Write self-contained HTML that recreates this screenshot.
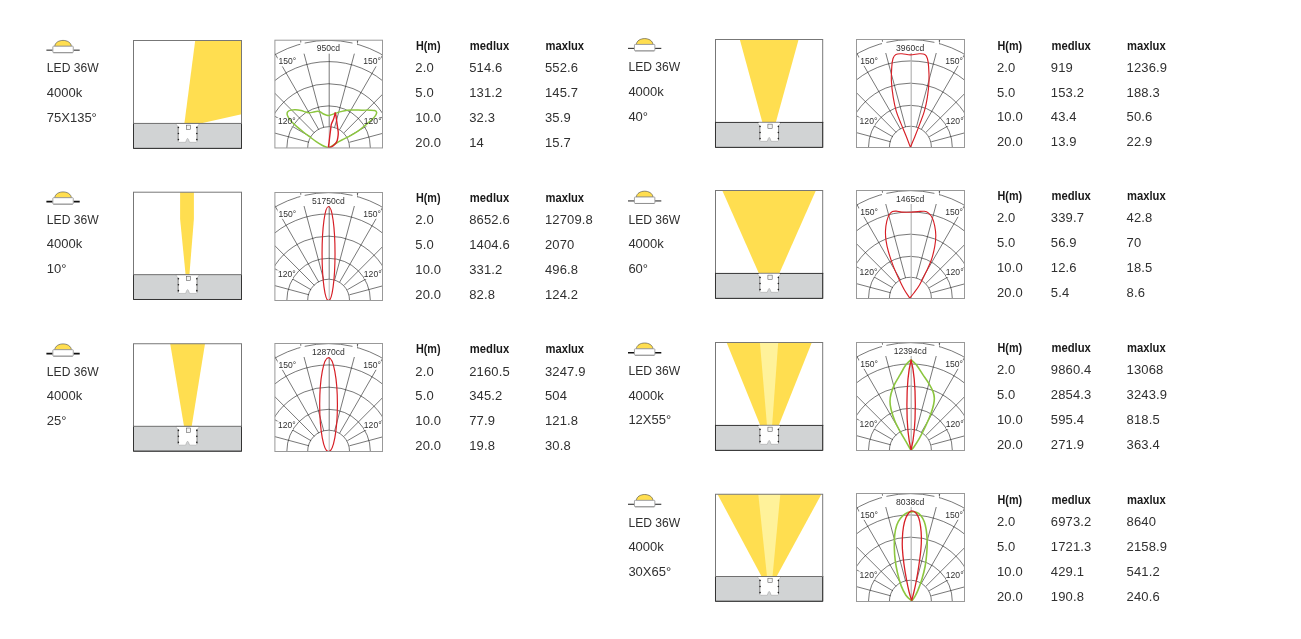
<!DOCTYPE html>
<html lang="en"><head><meta charset="utf-8"><title>LED 36W photometric data</title>
<style>html,body{margin:0;padding:0;background:#fff}body{width:1301px;height:639px;overflow:hidden}svg{display:block;will-change:transform;font-family:"Liberation Sans",sans-serif}</style></head><body>
<svg width="1301" height="639" viewBox="0 0 1301 639">
<rect width="1301" height="639" fill="#fff"/>
<g transform="translate(46.4,40.3)">
<path d="M8.3,6.1 C8.9,-1.9 24.4,-1.9 25,6.1 Z" fill="#FFDE50" stroke="#333" stroke-width="0.55"/>
<path d="M0,9.85H6.3M27,9.85H33.3" stroke="#111" stroke-width="0.95" fill="none"/>
<rect x="6.45" y="5.9" width="20.4" height="6.45" rx="0.7" fill="#fff" stroke="#9a9a9a" stroke-width="0.9"/>
<path d="M7,12.4H26.3" stroke="#888" stroke-width="0.7" fill="none"/>
</g>
<g font-size="13" fill="#303030">
<text x="46.8" y="72.3" textLength="51.9" lengthAdjust="spacingAndGlyphs">LED 36W</text>
<text x="46.8" y="97">4000k</text>
<text x="46.8" y="121.8">75X135°</text>
</g>
<g transform="translate(133,40) scale(1.00000,0.99907)">
<rect x="0.5" y="0.5" width="108" height="108" fill="#fff"/>
<polygon points="62.2,0.5 108.5,0.5 108.5,74.4 67.3,83.5 51.4,83.5" fill="#FFDE50"/>
<rect x="0.5" y="83.5" width="108" height="25" fill="#D1D3D4"/>
<polygon points="43.2,83.5 66,83.5 66,84.7 64.1,86.5 64.1,101.3 63.2,102.4 56.6,102.4 55.5,99.5 54.6,98.4 53.7,99.5 52.6,102.4 46,102.4 45.1,101.3 45.1,86.5 43.2,84.7" fill="#fff" stroke="#8a8a8a" stroke-width="0.4"/>
<path d="M45.2,86.5 V101.2 M64,86.5 V101.2" stroke="#444" stroke-width="0.45" fill="none"/>
<rect x="53.3" y="85.2" width="4.3" height="4.3" fill="#f4f4f4" stroke="#444" stroke-width="0.5"/>
<circle cx="45.4" cy="87.6" r="0.8" fill="#222"/>
<circle cx="45.4" cy="93.6" r="0.8" fill="#222"/>
<circle cx="45.4" cy="99.6" r="0.8" fill="#222"/>
<circle cx="63.8" cy="87.6" r="0.8" fill="#222"/>
<circle cx="63.8" cy="93.6" r="0.8" fill="#222"/>
<circle cx="63.8" cy="99.6" r="0.8" fill="#222"/>
<rect x="0.5" y="0.5" width="108" height="108" fill="none" stroke="#777" stroke-width="1"/>
<path d="M0.5,83 V108.5 H108.5 V83" fill="none" stroke="#333" stroke-width="1"/>
<path d="M0,83.5 H109" stroke="#6e6e6e" stroke-width="1"/>
</g>
<g transform="translate(274.4,39.7) scale(0.99630,0.99769)">
<clipPath id="c1"><rect x="0.5" y="0.5" width="108" height="108"/></clipPath>
<rect x="0.5" y="0.5" width="108" height="108" fill="#fff"/>
<g clip-path="url(#c1)" fill="none" stroke="#141414" stroke-width="0.58">
<circle cx="54.4" cy="108.25" r="21"/>
<circle cx="54.4" cy="108.25" r="41.9"/>
<circle cx="54.4" cy="108.25" r="64.1"/>
<circle cx="54.4" cy="108.25" r="86.3"/>
<circle cx="54.4" cy="108.25" r="107.6"/>
<path d="M55,108.25 V87.25" stroke="#b0b0b0" stroke-width="0.9"/>
<path d="M34.72,102.81 L-99.55,66.84M36.81,97.75 L-83.56,28.25M40.15,93.4 L-58.14,-4.89M44.5,90.06 L-25,-30.31M49.56,87.97 L13.59,-46.3M55,87.25 L55,-51.75M60.44,87.97 L96.41,-46.3M65.5,90.06 L135,-30.31M69.85,93.4 L168.14,-4.89M73.19,97.75 L193.56,28.25M75.28,102.81 L209.55,66.84"/>
</g>
<g fill="#fff">
<rect x="26" y="1" width="57" height="13"/>
<rect x="3" y="18.2" width="19.5" height="8.6"/>
<rect x="88" y="18.2" width="19.5" height="8.6"/>
<rect x="2.4" y="78.4" width="16.2" height="8.6"/>
<rect x="90.2" y="78.4" width="18" height="8.6"/>
</g>
<path d="M30.4,3.36 A107.6,107.6 0 0 1 78.4,3.36" fill="none" stroke="#141414" stroke-width="0.58" clip-path="url(#c1)"/>
<g clip-path="url(#c1)" fill="none" stroke-linejoin="round">
<path d="M54.5,108.5C53.42,108.05 50.17,106.9 48.05,105.8C45.93,104.7 43.89,103.33 41.8,101.9C39.71,100.47 37.58,98.77 35.5,97.2C33.42,95.63 31.38,94.13 29.3,92.5C27.22,90.87 24.97,89.1 23,87.4C21.03,85.7 18.93,83.87 17.5,82.3C16.07,80.73 15.15,79.23 14.4,78C13.65,76.77 13.13,75.88 13,74.9C12.87,73.92 12.97,72.82 13.6,72.1C14.22,71.38 15.44,70.92 16.75,70.6C18.06,70.28 19.76,70.13 21.45,70.2C23.14,70.27 25.21,70.62 26.9,71C28.59,71.38 30.17,72.12 31.6,72.5C33.03,72.88 34.2,73.3 35.5,73.3C36.8,73.3 38.08,72.77 39.4,72.5C40.72,72.23 42.22,71.7 43.4,71.7C44.58,71.7 45.47,72.03 46.5,72.5C47.53,72.97 48.56,73.97 49.6,74.5C50.64,75.03 51.7,75.5 52.75,75.7C53.8,75.9 54.59,75.97 55.9,75.7C57.21,75.43 58.78,74.7 60.6,74.1C62.42,73.5 64.72,72.68 66.8,72.1C68.88,71.52 70.88,70.88 73.1,70.6C75.32,70.32 77.62,70.4 80.1,70.4C82.58,70.4 85.38,70.57 88,70.6C90.62,70.63 93.65,70.53 95.8,70.6C97.95,70.67 99.73,70.62 100.9,71C102.07,71.38 102.67,72.06 102.8,72.9C102.92,73.74 102.43,74.87 101.65,76.05C100.87,77.23 99.72,78.44 98.1,80C96.47,81.56 94.24,83.45 91.9,85.4C89.56,87.35 86.67,89.87 84.05,91.7C81.43,93.53 78.81,94.97 76.2,96.4C73.59,97.83 70.75,99.07 68.4,100.3C66.05,101.53 63.93,102.69 62.1,103.8C60.27,104.91 58.67,106.17 57.4,106.95C56.13,107.73 54.98,108.24 54.5,108.5" stroke="#8CC63F" stroke-width="1.5" transform="translate(-0.2,0)"/>
<path d="M54.3,108.1C54.43,107.19 54.83,104.73 55.1,102.65C55.37,100.57 55.63,97.82 55.9,95.6C56.17,93.38 56.45,91.17 56.7,89.35C56.95,87.52 56.95,86.22 57.4,84.65C57.85,83.08 58.87,81.38 59.4,79.95C59.93,78.52 60.3,77.22 60.6,76.05C60.9,74.88 61.1,73.43 61.2,72.9M61.2,72.9C61.33,73.43 61.73,74.48 62,76.05C62.27,77.62 62.52,80.21 62.8,82.3C63.08,84.39 63.45,86.77 63.7,88.6C63.95,90.42 64.27,91.69 64.3,93.25C64.33,94.81 64.13,96.51 63.9,97.95C63.67,99.39 63.45,100.73 62.9,101.9C62.35,103.08 61.52,104.09 60.6,105C59.68,105.91 58.45,106.83 57.4,107.35C56.35,107.87 54.82,107.97 54.3,108.1" stroke="#D71F26" stroke-width="1.4" transform="translate(-0.2,0)"/>
</g>
<path d="M26.5,0.5V2.8M83.3,0.5V2.8" stroke="#333" stroke-width="0.6" fill="none"/>
<g font-size="8.6" fill="#303030">
<text x="54.2" y="11.6" text-anchor="middle">950cd</text>
<text x="4.2" y="24.8">150°</text>
<text x="89.2" y="24.8">150°</text>
<text x="3.6" y="85">120°</text>
<text x="89.8" y="85">120°</text>
</g>
<rect x="0.5" y="0.5" width="108" height="108" fill="none" stroke="#999" stroke-width="1"/>
</g>
<g font-size="12" font-weight="bold" fill="#1a1a1a">
<text x="415.9" y="49.8" textLength="24.6" lengthAdjust="spacingAndGlyphs">H(m)</text>
<text x="469.8" y="49.8" textLength="39.4" lengthAdjust="spacingAndGlyphs">medlux</text>
<text x="545.5" y="49.8" textLength="38.6" lengthAdjust="spacingAndGlyphs">maxlux</text>
</g>
<g font-size="13" fill="#303030" letter-spacing="0.15">
<text x="415.3" y="72">2.0</text>
<text x="469.2" y="72">514.6</text>
<text x="544.9" y="72">552.6</text>
<text x="415.3" y="96.8">5.0</text>
<text x="469.2" y="96.8">131.2</text>
<text x="544.9" y="96.8">145.7</text>
<text x="415.3" y="121.6">10.0</text>
<text x="469.2" y="121.6">32.3</text>
<text x="544.9" y="121.6">35.9</text>
<text x="415.3" y="146.5">20.0</text>
<text x="469.2" y="146.5">14</text>
<text x="544.9" y="146.5">15.7</text>
</g>
<g transform="translate(46.4,191.8)">
<path d="M8.3,6.1 C8.9,-1.9 24.4,-1.9 25,6.1 Z" fill="#FFDE50" stroke="#333" stroke-width="0.55"/>
<path d="M0,9.85H6.3M27,9.85H33.3" stroke="#111" stroke-width="1.7" fill="none"/>
<rect x="6.45" y="5.9" width="20.4" height="6.45" rx="0.7" fill="#fff" stroke="#9a9a9a" stroke-width="0.9"/>
<path d="M7,12.4H26.3" stroke="#888" stroke-width="0.7" fill="none"/>
</g>
<g font-size="13" fill="#303030">
<text x="46.8" y="223.5" textLength="51.9" lengthAdjust="spacingAndGlyphs">LED 36W</text>
<text x="46.8" y="248.2">4000k</text>
<text x="46.8" y="273">10°</text>
</g>
<g transform="translate(133,191.7) scale(1.00000,0.99352)">
<rect x="0.5" y="0.5" width="108" height="108" fill="#fff"/>
<polygon points="47.1,0.5 60.9,0.5 60.9,27.6 56.4,83.5 52.6,83.5 47.1,27.6" fill="#FFDE50"/>
<rect x="0.5" y="83.5" width="108" height="25" fill="#D1D3D4"/>
<polygon points="43.2,83.5 66,83.5 66,84.7 64.1,86.5 64.1,101.3 63.2,102.4 56.6,102.4 55.5,99.5 54.6,98.4 53.7,99.5 52.6,102.4 46,102.4 45.1,101.3 45.1,86.5 43.2,84.7" fill="#fff" stroke="#8a8a8a" stroke-width="0.4"/>
<path d="M45.2,86.5 V101.2 M64,86.5 V101.2" stroke="#444" stroke-width="0.45" fill="none"/>
<rect x="53.3" y="85.2" width="4.3" height="4.3" fill="#f4f4f4" stroke="#444" stroke-width="0.5"/>
<circle cx="45.4" cy="87.6" r="0.8" fill="#222"/>
<circle cx="45.4" cy="93.6" r="0.8" fill="#222"/>
<circle cx="45.4" cy="99.6" r="0.8" fill="#222"/>
<circle cx="63.8" cy="87.6" r="0.8" fill="#222"/>
<circle cx="63.8" cy="93.6" r="0.8" fill="#222"/>
<circle cx="63.8" cy="99.6" r="0.8" fill="#222"/>
<rect x="0.5" y="0.5" width="108" height="108" fill="none" stroke="#777" stroke-width="1"/>
<path d="M0.5,83 V108.5 H108.5 V83" fill="none" stroke="#333" stroke-width="1"/>
<path d="M0,83.5 H109" stroke="#6e6e6e" stroke-width="1"/>
</g>
<g transform="translate(274.4,192) scale(0.99630,1.00000)">
<clipPath id="c2"><rect x="0.5" y="0.5" width="108" height="108"/></clipPath>
<rect x="0.5" y="0.5" width="108" height="108" fill="#fff"/>
<g clip-path="url(#c2)" fill="none" stroke="#141414" stroke-width="0.58">
<circle cx="54.4" cy="108.25" r="21"/>
<circle cx="54.4" cy="108.25" r="41.9"/>
<circle cx="54.4" cy="108.25" r="64.1"/>
<circle cx="54.4" cy="108.25" r="86.3"/>
<circle cx="54.4" cy="108.25" r="107.6"/>
<path d="M55,108.25 V87.25" stroke="#b0b0b0" stroke-width="0.9"/>
<path d="M34.72,102.81 L-99.55,66.84M36.81,97.75 L-83.56,28.25M40.15,93.4 L-58.14,-4.89M44.5,90.06 L-25,-30.31M49.56,87.97 L13.59,-46.3M55,87.25 L55,-51.75M60.44,87.97 L96.41,-46.3M65.5,90.06 L135,-30.31M69.85,93.4 L168.14,-4.89M73.19,97.75 L193.56,28.25M75.28,102.81 L209.55,66.84"/>
</g>
<g fill="#fff">
<rect x="26" y="1" width="57" height="13"/>
<rect x="3" y="18.2" width="19.5" height="8.6"/>
<rect x="88" y="18.2" width="19.5" height="8.6"/>
<rect x="2.4" y="78.4" width="16.2" height="8.6"/>
<rect x="90.2" y="78.4" width="18" height="8.6"/>
</g>
<path d="M30.4,3.36 A107.6,107.6 0 0 1 78.4,3.36" fill="none" stroke="#141414" stroke-width="0.58" clip-path="url(#c2)"/>
<g clip-path="url(#c2)" fill="none" stroke-linejoin="round">
<path d="M54.55,108.6 A6.5,47.05 0 1 1 54.55,14.5 A6.5,47.05 0 1 1 54.55,108.6 Z" stroke="#D71F26" stroke-width="1.2" transform="translate(-0.2,0)"/>
</g>
<path d="M26.5,0.5V2.8M83.3,0.5V2.8" stroke="#333" stroke-width="0.6" fill="none"/>
<g font-size="8.6" fill="#303030">
<text x="54.2" y="11.6" text-anchor="middle">51750cd</text>
<text x="4.2" y="24.8">150°</text>
<text x="89.2" y="24.8">150°</text>
<text x="3.6" y="85">120°</text>
<text x="89.8" y="85">120°</text>
</g>
<rect x="0.5" y="0.5" width="108" height="108" fill="none" stroke="#999" stroke-width="1"/>
</g>
<g font-size="12" font-weight="bold" fill="#1a1a1a">
<text x="415.9" y="201.8" textLength="24.6" lengthAdjust="spacingAndGlyphs">H(m)</text>
<text x="469.8" y="201.8" textLength="39.4" lengthAdjust="spacingAndGlyphs">medlux</text>
<text x="545.5" y="201.8" textLength="38.6" lengthAdjust="spacingAndGlyphs">maxlux</text>
</g>
<g font-size="13" fill="#303030" letter-spacing="0.15">
<text x="415.3" y="224">2.0</text>
<text x="469.2" y="224">8652.6</text>
<text x="544.9" y="224">12709.8</text>
<text x="415.3" y="248.8">5.0</text>
<text x="469.2" y="248.8">1404.6</text>
<text x="544.9" y="248.8">2070</text>
<text x="415.3" y="273.6">10.0</text>
<text x="469.2" y="273.6">331.2</text>
<text x="544.9" y="273.6">496.8</text>
<text x="415.3" y="298.5">20.0</text>
<text x="469.2" y="298.5">82.8</text>
<text x="544.9" y="298.5">124.2</text>
</g>
<g transform="translate(46.4,343.8)">
<path d="M8.3,6.1 C8.9,-1.9 24.4,-1.9 25,6.1 Z" fill="#FFDE50" stroke="#333" stroke-width="0.55"/>
<path d="M0,9.85H6.3M27,9.85H33.3" stroke="#111" stroke-width="1.7" fill="none"/>
<rect x="6.45" y="5.9" width="20.4" height="6.45" rx="0.7" fill="#fff" stroke="#9a9a9a" stroke-width="0.9"/>
<path d="M7,12.4H26.3" stroke="#888" stroke-width="0.7" fill="none"/>
</g>
<g font-size="13" fill="#303030">
<text x="46.8" y="375.7" textLength="51.9" lengthAdjust="spacingAndGlyphs">LED 36W</text>
<text x="46.8" y="400.4">4000k</text>
<text x="46.8" y="425.2">25°</text>
</g>
<g transform="translate(133,343.25) scale(1.00000,0.99491)">
<rect x="0.5" y="0.5" width="108" height="108" fill="#fff"/>
<polygon points="37.2,0.5 72,0.5 58.7,83.5 51,83.5" fill="#FFDE50"/>
<rect x="0.5" y="83.5" width="108" height="25" fill="#D1D3D4"/>
<polygon points="43.2,83.5 66,83.5 66,84.7 64.1,86.5 64.1,101.3 63.2,102.4 56.6,102.4 55.5,99.5 54.6,98.4 53.7,99.5 52.6,102.4 46,102.4 45.1,101.3 45.1,86.5 43.2,84.7" fill="#fff" stroke="#8a8a8a" stroke-width="0.4"/>
<path d="M45.2,86.5 V101.2 M64,86.5 V101.2" stroke="#444" stroke-width="0.45" fill="none"/>
<rect x="53.3" y="85.2" width="4.3" height="4.3" fill="#f4f4f4" stroke="#444" stroke-width="0.5"/>
<circle cx="45.4" cy="87.6" r="0.8" fill="#222"/>
<circle cx="45.4" cy="93.6" r="0.8" fill="#222"/>
<circle cx="45.4" cy="99.6" r="0.8" fill="#222"/>
<circle cx="63.8" cy="87.6" r="0.8" fill="#222"/>
<circle cx="63.8" cy="93.6" r="0.8" fill="#222"/>
<circle cx="63.8" cy="99.6" r="0.8" fill="#222"/>
<rect x="0.5" y="0.5" width="108" height="108" fill="none" stroke="#777" stroke-width="1"/>
<path d="M0.5,83 V108.5 H108.5 V83" fill="none" stroke="#333" stroke-width="1"/>
<path d="M0,83.5 H109" stroke="#6e6e6e" stroke-width="1"/>
</g>
<g transform="translate(274.4,343) scale(0.99630,1.00000)">
<clipPath id="c3"><rect x="0.5" y="0.5" width="108" height="108"/></clipPath>
<rect x="0.5" y="0.5" width="108" height="108" fill="#fff"/>
<g clip-path="url(#c3)" fill="none" stroke="#141414" stroke-width="0.58">
<circle cx="54.4" cy="108.25" r="21"/>
<circle cx="54.4" cy="108.25" r="41.9"/>
<circle cx="54.4" cy="108.25" r="64.1"/>
<circle cx="54.4" cy="108.25" r="86.3"/>
<circle cx="54.4" cy="108.25" r="107.6"/>
<path d="M55,108.25 V87.25" stroke="#b0b0b0" stroke-width="0.9"/>
<path d="M34.72,102.81 L-99.55,66.84M36.81,97.75 L-83.56,28.25M40.15,93.4 L-58.14,-4.89M44.5,90.06 L-25,-30.31M49.56,87.97 L13.59,-46.3M55,87.25 L55,-51.75M60.44,87.97 L96.41,-46.3M65.5,90.06 L135,-30.31M69.85,93.4 L168.14,-4.89M73.19,97.75 L193.56,28.25M75.28,102.81 L209.55,66.84"/>
</g>
<g fill="#fff">
<rect x="26" y="1" width="57" height="13"/>
<rect x="3" y="18.2" width="19.5" height="8.6"/>
<rect x="88" y="18.2" width="19.5" height="8.6"/>
<rect x="2.4" y="78.4" width="16.2" height="8.6"/>
<rect x="90.2" y="78.4" width="18" height="8.6"/>
</g>
<path d="M30.4,3.36 A107.6,107.6 0 0 1 78.4,3.36" fill="none" stroke="#141414" stroke-width="0.58" clip-path="url(#c3)"/>
<g clip-path="url(#c3)" fill="none" stroke-linejoin="round">
<path d="M54.55,108.6 A8.9,47 0 1 1 54.55,14.6 A8.9,47 0 1 1 54.55,108.6 Z" stroke="#D71F26" stroke-width="1.2" transform="translate(-0.2,0)"/>
</g>
<path d="M26.5,0.5V2.8M83.3,0.5V2.8" stroke="#333" stroke-width="0.6" fill="none"/>
<g font-size="8.6" fill="#303030">
<text x="54.2" y="11.6" text-anchor="middle">12870cd</text>
<text x="4.2" y="24.8">150°</text>
<text x="89.2" y="24.8">150°</text>
<text x="3.6" y="85">120°</text>
<text x="89.8" y="85">120°</text>
</g>
<rect x="0.5" y="0.5" width="108" height="108" fill="none" stroke="#999" stroke-width="1"/>
</g>
<g font-size="12" font-weight="bold" fill="#1a1a1a">
<text x="415.9" y="353.4" textLength="24.6" lengthAdjust="spacingAndGlyphs">H(m)</text>
<text x="469.8" y="353.4" textLength="39.4" lengthAdjust="spacingAndGlyphs">medlux</text>
<text x="545.5" y="353.4" textLength="38.6" lengthAdjust="spacingAndGlyphs">maxlux</text>
</g>
<g font-size="13" fill="#303030" letter-spacing="0.15">
<text x="415.3" y="375.6">2.0</text>
<text x="469.2" y="375.6">2160.5</text>
<text x="544.9" y="375.6">3247.9</text>
<text x="415.3" y="400.4">5.0</text>
<text x="469.2" y="400.4">345.2</text>
<text x="544.9" y="400.4">504</text>
<text x="415.3" y="425.2">10.0</text>
<text x="469.2" y="425.2">77.9</text>
<text x="544.9" y="425.2">121.8</text>
<text x="415.3" y="450.1">20.0</text>
<text x="469.2" y="450.1">19.8</text>
<text x="544.9" y="450.1">30.8</text>
</g>
<g transform="translate(628,38.5)">
<path d="M8.3,6.1 C8.9,-1.9 24.4,-1.9 25,6.1 Z" fill="#FFDE50" stroke="#333" stroke-width="0.55"/>
<path d="M0,9.85H6.3M27,9.85H33.3" stroke="#111" stroke-width="0.95" fill="none"/>
<rect x="6.45" y="5.9" width="20.4" height="6.45" rx="0.7" fill="#fff" stroke="#9a9a9a" stroke-width="0.9"/>
<path d="M7,12.4H26.3" stroke="#888" stroke-width="0.7" fill="none"/>
</g>
<g font-size="13" fill="#303030">
<text x="628.4" y="71" textLength="51.9" lengthAdjust="spacingAndGlyphs">LED 36W</text>
<text x="628.4" y="95.7">4000k</text>
<text x="628.4" y="120.5">40°</text>
</g>
<g transform="translate(715,39) scale(0.99259,0.99907)">
<rect x="0.5" y="0.5" width="108" height="108" fill="#fff"/>
<polygon points="24.99,0.5 84.22,0.5 61.25,83.5 47.75,83.5" fill="#FFDE50"/>
<rect x="0.5" y="83.5" width="108" height="25" fill="#D1D3D4"/>
<polygon points="43.2,83.5 66,83.5 66,84.7 64.1,86.5 64.1,101.3 63.2,102.4 56.6,102.4 55.5,99.5 54.6,98.4 53.7,99.5 52.6,102.4 46,102.4 45.1,101.3 45.1,86.5 43.2,84.7" fill="#fff" stroke="#8a8a8a" stroke-width="0.4"/>
<path d="M45.2,86.5 V101.2 M64,86.5 V101.2" stroke="#444" stroke-width="0.45" fill="none"/>
<rect x="53.3" y="85.2" width="4.3" height="4.3" fill="#f4f4f4" stroke="#444" stroke-width="0.5"/>
<circle cx="45.4" cy="87.6" r="0.8" fill="#222"/>
<circle cx="45.4" cy="93.6" r="0.8" fill="#222"/>
<circle cx="45.4" cy="99.6" r="0.8" fill="#222"/>
<circle cx="63.8" cy="87.6" r="0.8" fill="#222"/>
<circle cx="63.8" cy="93.6" r="0.8" fill="#222"/>
<circle cx="63.8" cy="99.6" r="0.8" fill="#222"/>
<rect x="0.5" y="0.5" width="108" height="108" fill="none" stroke="#777" stroke-width="1"/>
<path d="M0.5,83 V108.5 H108.5 V83" fill="none" stroke="#333" stroke-width="1"/>
<path d="M0,83.5 H109" stroke="#333" stroke-width="1"/>
<path d="M44,83.5 H65.2" stroke="#a6a6a6" stroke-width="1"/>
</g>
<g transform="translate(856,39) scale(1.00000,1.00000)">
<clipPath id="c4"><rect x="0.5" y="0.5" width="108" height="108"/></clipPath>
<rect x="0.5" y="0.5" width="108" height="108" fill="#fff"/>
<g clip-path="url(#c4)" fill="none" stroke="#141414" stroke-width="0.58">
<circle cx="54.4" cy="108.25" r="21"/>
<circle cx="54.4" cy="108.25" r="41.9"/>
<circle cx="54.4" cy="108.25" r="64.1"/>
<circle cx="54.4" cy="108.25" r="86.3"/>
<circle cx="54.4" cy="108.25" r="107.6"/>
<path d="M55.2,108.25 V0" stroke="#b4b4b4" stroke-width="1.2"/>
<path d="M34.72,102.81 L-99.55,66.84M36.81,97.75 L-83.56,28.25M40.15,93.4 L-58.14,-4.89M44.5,90.06 L-25,-30.31M49.56,87.97 L13.59,-46.3M60.44,87.97 L96.41,-46.3M65.5,90.06 L135,-30.31M69.85,93.4 L168.14,-4.89M73.19,97.75 L193.56,28.25M75.28,102.81 L209.55,66.84"/>
</g>
<g fill="#fff">
<rect x="26" y="1" width="57" height="13"/>
<rect x="3" y="18.2" width="19.5" height="8.6"/>
<rect x="88" y="18.2" width="19.5" height="8.6"/>
<rect x="2.4" y="78.4" width="16.2" height="8.6"/>
<rect x="90.2" y="78.4" width="18" height="8.6"/>
</g>
<path d="M30.4,3.36 A107.6,107.6 0 0 1 78.4,3.36" fill="none" stroke="#141414" stroke-width="0.58" clip-path="url(#c4)"/>
<g clip-path="url(#c4)" fill="none" stroke-linejoin="round">
<path d="M54.6,108.3C53.87,106.38 51.77,100.75 50.2,96.8C48.63,92.85 46.82,88.67 45.2,84.6C43.58,80.53 41.8,76.82 40.5,72.4C39.2,67.98 38.22,63.18 37.4,58.1C36.58,53.02 35.83,46.98 35.6,41.9C35.37,36.82 35.73,31.33 36,27.6C36.27,23.87 36.52,21.53 37.2,19.5C37.88,17.47 38.6,16.18 40.1,15.4C41.6,14.62 43.78,14.73 46.2,14.8C48.62,14.87 51.73,15.8 54.6,15.8C57.47,15.8 61,14.87 63.4,14.8C65.8,14.73 67.63,14.62 69,15.4C70.37,16.18 70.97,17.47 71.6,19.5C72.23,21.53 72.53,23.87 72.8,27.6C73.07,31.33 73.4,36.82 73.2,41.9C73,46.98 72.38,53.02 71.6,58.1C70.82,63.18 69.75,67.98 68.5,72.4C67.25,76.82 65.62,80.53 64.1,84.6C62.58,88.67 60.98,92.85 59.4,96.8C57.82,100.75 55.4,106.38 54.6,108.3" stroke="#D71F26" stroke-width="1.15" transform="translate(-0.2,0)"/>
</g>
<path d="M26.5,0.5V2.8M83.3,0.5V2.8" stroke="#333" stroke-width="0.6" fill="none"/>
<g font-size="8.6" fill="#303030">
<text x="54.2" y="11.6" text-anchor="middle">3960cd</text>
<text x="4.2" y="24.8">150°</text>
<text x="89.2" y="24.8">150°</text>
<text x="3.6" y="85">120°</text>
<text x="89.8" y="85">120°</text>
</g>
<rect x="0.5" y="0.5" width="108" height="108" fill="none" stroke="#999" stroke-width="1"/>
</g>
<g font-size="12" font-weight="bold" fill="#1a1a1a">
<text x="997.5" y="49.6" textLength="24.6" lengthAdjust="spacingAndGlyphs">H(m)</text>
<text x="1051.4" y="49.6" textLength="39.4" lengthAdjust="spacingAndGlyphs">medlux</text>
<text x="1127.1" y="49.6" textLength="38.6" lengthAdjust="spacingAndGlyphs">maxlux</text>
</g>
<g font-size="13" fill="#303030" letter-spacing="0.15">
<text x="996.9" y="71.8">2.0</text>
<text x="1050.8" y="71.8">919</text>
<text x="1126.5" y="71.8">1236.9</text>
<text x="996.9" y="96.6">5.0</text>
<text x="1050.8" y="96.6">153.2</text>
<text x="1126.5" y="96.6">188.3</text>
<text x="996.9" y="121.4">10.0</text>
<text x="1050.8" y="121.4">43.4</text>
<text x="1126.5" y="121.4">50.6</text>
<text x="996.9" y="146.3">20.0</text>
<text x="1050.8" y="146.3">13.9</text>
<text x="1126.5" y="146.3">22.9</text>
</g>
<g transform="translate(628,191.1)">
<path d="M8.3,6.1 C8.9,-1.9 24.4,-1.9 25,6.1 Z" fill="#FFDE50" stroke="#333" stroke-width="0.55"/>
<path d="M0,9.85H6.3M27,9.85H33.3" stroke="#111" stroke-width="0.95" fill="none"/>
<rect x="6.45" y="5.9" width="20.4" height="6.45" rx="0.7" fill="#fff" stroke="#9a9a9a" stroke-width="0.9"/>
<path d="M7,12.4H26.3" stroke="#888" stroke-width="0.7" fill="none"/>
</g>
<g font-size="13" fill="#303030">
<text x="628.4" y="223.5" textLength="51.9" lengthAdjust="spacingAndGlyphs">LED 36W</text>
<text x="628.4" y="248.2">4000k</text>
<text x="628.4" y="273">60°</text>
</g>
<g transform="translate(715,190) scale(0.99259,0.99907)">
<rect x="0.5" y="0.5" width="108" height="108" fill="#fff"/>
<polygon points="7.35,0.5 101.65,0.5 64.78,83.5 44.23,83.5" fill="#FFDE50"/>
<rect x="0.5" y="83.5" width="108" height="25" fill="#D1D3D4"/>
<polygon points="43.2,83.5 66,83.5 66,84.7 64.1,86.5 64.1,101.3 63.2,102.4 56.6,102.4 55.5,99.5 54.6,98.4 53.7,99.5 52.6,102.4 46,102.4 45.1,101.3 45.1,86.5 43.2,84.7" fill="#fff" stroke="#8a8a8a" stroke-width="0.4"/>
<path d="M45.2,86.5 V101.2 M64,86.5 V101.2" stroke="#444" stroke-width="0.45" fill="none"/>
<rect x="53.3" y="85.2" width="4.3" height="4.3" fill="#f4f4f4" stroke="#444" stroke-width="0.5"/>
<circle cx="45.4" cy="87.6" r="0.8" fill="#222"/>
<circle cx="45.4" cy="93.6" r="0.8" fill="#222"/>
<circle cx="45.4" cy="99.6" r="0.8" fill="#222"/>
<circle cx="63.8" cy="87.6" r="0.8" fill="#222"/>
<circle cx="63.8" cy="93.6" r="0.8" fill="#222"/>
<circle cx="63.8" cy="99.6" r="0.8" fill="#222"/>
<rect x="0.5" y="0.5" width="108" height="108" fill="none" stroke="#777" stroke-width="1"/>
<path d="M0.5,83 V108.5 H108.5 V83" fill="none" stroke="#333" stroke-width="1"/>
<path d="M0,83.5 H109" stroke="#333" stroke-width="1"/>
<path d="M44,83.5 H65.2" stroke="#a6a6a6" stroke-width="1"/>
</g>
<g transform="translate(856,190) scale(1.00000,1.00000)">
<clipPath id="c5"><rect x="0.5" y="0.5" width="108" height="108"/></clipPath>
<rect x="0.5" y="0.5" width="108" height="108" fill="#fff"/>
<g clip-path="url(#c5)" fill="none" stroke="#141414" stroke-width="0.58">
<circle cx="54.4" cy="108.25" r="21"/>
<circle cx="54.4" cy="108.25" r="41.9"/>
<circle cx="54.4" cy="108.25" r="64.1"/>
<circle cx="54.4" cy="108.25" r="86.3"/>
<circle cx="54.4" cy="108.25" r="107.6"/>
<path d="M55.2,108.25 V0" stroke="#b4b4b4" stroke-width="1.2"/>
<path d="M34.72,102.81 L-99.55,66.84M36.81,97.75 L-83.56,28.25M40.15,93.4 L-58.14,-4.89M44.5,90.06 L-25,-30.31M49.56,87.97 L13.59,-46.3M60.44,87.97 L96.41,-46.3M65.5,90.06 L135,-30.31M69.85,93.4 L168.14,-4.89M73.19,97.75 L193.56,28.25M75.28,102.81 L209.55,66.84"/>
</g>
<g fill="#fff">
<rect x="26" y="1" width="57" height="13"/>
<rect x="3" y="18.2" width="19.5" height="8.6"/>
<rect x="88" y="18.2" width="19.5" height="8.6"/>
<rect x="2.4" y="78.4" width="16.2" height="8.6"/>
<rect x="90.2" y="78.4" width="18" height="8.6"/>
</g>
<path d="M30.4,3.36 A107.6,107.6 0 0 1 78.4,3.36" fill="none" stroke="#141414" stroke-width="0.58" clip-path="url(#c5)"/>
<g clip-path="url(#c5)" fill="none" stroke-linejoin="round">
<path d="M54,108.2C53.08,106.8 50.35,103.07 48.5,99.8C46.65,96.53 44.75,92.58 42.9,88.6C41.05,84.62 39.12,80.42 37.4,75.9C35.68,71.38 33.8,65.77 32.6,61.5C31.4,57.23 30.68,53.77 30.2,50.3C29.72,46.83 29.57,43.88 29.7,40.7C29.83,37.52 30.38,33.85 31,31.2C31.62,28.55 32.47,26.4 33.4,24.8C34.33,23.2 35.42,22.22 36.6,21.6C37.78,20.98 38.92,21.02 40.5,21.1C42.08,21.18 43.83,21.92 46.1,22.1C48.37,22.28 51.43,22.28 54.1,22.2C56.77,22.12 59.7,21.75 62.1,21.6C64.5,21.45 66.77,21.08 68.5,21.3C70.23,21.52 71.17,21.78 72.5,22.9C73.83,24.02 75.43,25.83 76.5,28C77.57,30.17 78.32,32.98 78.9,35.9C79.48,38.82 80,42.03 80,45.5C80,48.97 79.62,52.7 78.9,56.7C78.18,60.7 77.17,65.23 75.7,69.5C74.23,73.77 72.1,78.05 70.1,82.3C68.1,86.55 65.7,91.55 63.7,95C61.7,98.45 59.72,100.8 58.1,103C56.48,105.2 54.68,107.33 54,108.2" stroke="#D71F26" stroke-width="1.15" transform="translate(-0.2,0)"/>
</g>
<path d="M26.5,0.5V2.8M83.3,0.5V2.8" stroke="#333" stroke-width="0.6" fill="none"/>
<g font-size="8.6" fill="#303030">
<text x="54.2" y="11.6" text-anchor="middle">1465cd</text>
<text x="4.2" y="24.8">150°</text>
<text x="89.2" y="24.8">150°</text>
<text x="3.6" y="85">120°</text>
<text x="89.8" y="85">120°</text>
</g>
<rect x="0.5" y="0.5" width="108" height="108" fill="none" stroke="#999" stroke-width="1"/>
</g>
<g font-size="12" font-weight="bold" fill="#1a1a1a">
<text x="997.5" y="200" textLength="24.6" lengthAdjust="spacingAndGlyphs">H(m)</text>
<text x="1051.4" y="200" textLength="39.4" lengthAdjust="spacingAndGlyphs">medlux</text>
<text x="1127.1" y="200" textLength="38.6" lengthAdjust="spacingAndGlyphs">maxlux</text>
</g>
<g font-size="13" fill="#303030" letter-spacing="0.15">
<text x="996.9" y="222.2">2.0</text>
<text x="1050.8" y="222.2">339.7</text>
<text x="1126.5" y="222.2">42.8</text>
<text x="996.9" y="247">5.0</text>
<text x="1050.8" y="247">56.9</text>
<text x="1126.5" y="247">70</text>
<text x="996.9" y="271.8">10.0</text>
<text x="1050.8" y="271.8">12.6</text>
<text x="1126.5" y="271.8">18.5</text>
<text x="996.9" y="296.7">20.0</text>
<text x="1050.8" y="296.7">5.4</text>
<text x="1126.5" y="296.7">8.6</text>
</g>
<g transform="translate(628,342.9)">
<path d="M8.3,6.1 C8.9,-1.9 24.4,-1.9 25,6.1 Z" fill="#FFDE50" stroke="#333" stroke-width="0.55"/>
<path d="M0,9.85H6.3M27,9.85H33.3" stroke="#111" stroke-width="1.7" fill="none"/>
<rect x="6.45" y="5.9" width="20.4" height="6.45" rx="0.7" fill="#fff" stroke="#9a9a9a" stroke-width="0.9"/>
<path d="M7,12.4H26.3" stroke="#888" stroke-width="0.7" fill="none"/>
</g>
<g font-size="13" fill="#303030">
<text x="628.4" y="374.9" textLength="51.9" lengthAdjust="spacingAndGlyphs">LED 36W</text>
<text x="628.4" y="399.6">4000k</text>
<text x="628.4" y="424.4">12X55°</text>
</g>
<g transform="translate(715,342) scale(0.99259,0.99907)">
<rect x="0.5" y="0.5" width="108" height="108" fill="#fff"/>
<polygon points="11.69,0.5 97.52,0.5 64.18,83.5 45.64,83.5" fill="#FFDE50"/>
<polygon points="45.24,0.5 63.67,0.5 57.53,83.5 52.39,83.5" fill="#FFF29A"/>
<rect x="0.5" y="83.5" width="108" height="25" fill="#D1D3D4"/>
<polygon points="43.2,83.5 66,83.5 66,84.7 64.1,86.5 64.1,101.3 63.2,102.4 56.6,102.4 55.5,99.5 54.6,98.4 53.7,99.5 52.6,102.4 46,102.4 45.1,101.3 45.1,86.5 43.2,84.7" fill="#fff" stroke="#8a8a8a" stroke-width="0.4"/>
<path d="M45.2,86.5 V101.2 M64,86.5 V101.2" stroke="#444" stroke-width="0.45" fill="none"/>
<rect x="53.3" y="85.2" width="4.3" height="4.3" fill="#f4f4f4" stroke="#444" stroke-width="0.5"/>
<circle cx="45.4" cy="87.6" r="0.8" fill="#222"/>
<circle cx="45.4" cy="93.6" r="0.8" fill="#222"/>
<circle cx="45.4" cy="99.6" r="0.8" fill="#222"/>
<circle cx="63.8" cy="87.6" r="0.8" fill="#222"/>
<circle cx="63.8" cy="93.6" r="0.8" fill="#222"/>
<circle cx="63.8" cy="99.6" r="0.8" fill="#222"/>
<rect x="0.5" y="0.5" width="108" height="108" fill="none" stroke="#777" stroke-width="1"/>
<path d="M0.5,83 V108.5 H108.5 V83" fill="none" stroke="#333" stroke-width="1"/>
<path d="M0,83.5 H109" stroke="#333" stroke-width="1"/>
<path d="M44,83.5 H65.2" stroke="#a6a6a6" stroke-width="1"/>
</g>
<g transform="translate(856,342) scale(1.00000,1.00000)">
<clipPath id="c6"><rect x="0.5" y="0.5" width="108" height="108"/></clipPath>
<rect x="0.5" y="0.5" width="108" height="108" fill="#fff"/>
<g clip-path="url(#c6)" fill="none" stroke="#141414" stroke-width="0.58">
<circle cx="54.4" cy="108.25" r="21"/>
<circle cx="54.4" cy="108.25" r="41.9"/>
<circle cx="54.4" cy="108.25" r="64.1"/>
<circle cx="54.4" cy="108.25" r="86.3"/>
<circle cx="54.4" cy="108.25" r="107.6"/>
<path d="M55.2,108.25 V0" stroke="#b4b4b4" stroke-width="1.2"/>
<path d="M34.72,102.81 L-99.55,66.84M36.81,97.75 L-83.56,28.25M40.15,93.4 L-58.14,-4.89M44.5,90.06 L-25,-30.31M49.56,87.97 L13.59,-46.3M60.44,87.97 L96.41,-46.3M65.5,90.06 L135,-30.31M69.85,93.4 L168.14,-4.89M73.19,97.75 L193.56,28.25M75.28,102.81 L209.55,66.84"/>
</g>
<g fill="#fff">
<rect x="26" y="1" width="57" height="13"/>
<rect x="3" y="18.2" width="19.5" height="8.6"/>
<rect x="88" y="18.2" width="19.5" height="8.6"/>
<rect x="2.4" y="78.4" width="16.2" height="8.6"/>
<rect x="90.2" y="78.4" width="18" height="8.6"/>
</g>
<path d="M30.4,3.36 A107.6,107.6 0 0 1 78.4,3.36" fill="none" stroke="#141414" stroke-width="0.58" clip-path="url(#c6)"/>
<g clip-path="url(#c6)" fill="none" stroke-linejoin="round">
<path d="M55.2,108.2C54.88,107.67 54.15,106.47 53.3,105C52.45,103.53 51.57,101.93 50.1,99.4C48.63,96.87 46.36,93.25 44.5,89.8C42.64,86.35 40.48,82.42 38.95,78.7C37.42,74.98 36.09,70.7 35.3,67.5C34.51,64.3 34.2,62.17 34.2,59.5C34.2,56.83 34.51,54.43 35.3,51.5C36.09,48.57 37.42,45.08 38.95,41.9C40.48,38.72 42.64,35.58 44.5,32.4C46.36,29.22 48.32,25.25 50.1,22.8C51.88,20.35 54.35,18.55 55.2,17.7M55.2,17.7C56.08,18.55 58.55,20.35 60.5,22.8C62.45,25.25 64.77,29.22 66.9,32.4C69.03,35.58 71.57,38.98 73.3,41.9C75.03,44.82 76.42,47.5 77.3,49.9C78.17,52.3 78.47,54.17 78.55,56.3C78.62,58.43 78.36,60.03 77.75,62.7C77.14,65.37 76.18,68.83 74.9,72.3C73.62,75.77 71.97,79.52 70.1,83.5C68.23,87.48 65.7,92.62 63.7,96.2C61.7,99.78 59.52,103 58.1,105C56.68,107 55.68,107.67 55.2,108.2" stroke="#8CC63F" stroke-width="1.6" transform="translate(-0.2,0)"/>
<path d="M55.3,108C49.7,86.57 49.7,39.43 55.3,18C60.9,39.43 60.9,86.57 55.3,108Z" stroke="#D71F26" stroke-width="1.3" transform="translate(-0.2,0)"/>
</g>
<path d="M26.5,0.5V2.8M83.3,0.5V2.8" stroke="#333" stroke-width="0.6" fill="none"/>
<g font-size="8.6" fill="#303030">
<text x="54.2" y="11.6" text-anchor="middle">12394cd</text>
<text x="4.2" y="24.8">150°</text>
<text x="89.2" y="24.8">150°</text>
<text x="3.6" y="85">120°</text>
<text x="89.8" y="85">120°</text>
</g>
<rect x="0.5" y="0.5" width="108" height="108" fill="none" stroke="#999" stroke-width="1"/>
</g>
<g font-size="12" font-weight="bold" fill="#1a1a1a">
<text x="997.5" y="352.2" textLength="24.6" lengthAdjust="spacingAndGlyphs">H(m)</text>
<text x="1051.4" y="352.2" textLength="39.4" lengthAdjust="spacingAndGlyphs">medlux</text>
<text x="1127.1" y="352.2" textLength="38.6" lengthAdjust="spacingAndGlyphs">maxlux</text>
</g>
<g font-size="13" fill="#303030" letter-spacing="0.15">
<text x="996.9" y="374.4">2.0</text>
<text x="1050.8" y="374.4">9860.4</text>
<text x="1126.5" y="374.4">13068</text>
<text x="996.9" y="399.2">5.0</text>
<text x="1050.8" y="399.2">2854.3</text>
<text x="1126.5" y="399.2">3243.9</text>
<text x="996.9" y="424">10.0</text>
<text x="1050.8" y="424">595.4</text>
<text x="1126.5" y="424">818.5</text>
<text x="996.9" y="448.9">20.0</text>
<text x="1050.8" y="448.9">271.9</text>
<text x="1126.5" y="448.9">363.4</text>
</g>
<g transform="translate(628,494.4)">
<path d="M8.3,6.1 C8.9,-1.9 24.4,-1.9 25,6.1 Z" fill="#FFDE50" stroke="#333" stroke-width="0.55"/>
<path d="M0,9.85H6.3M27,9.85H33.3" stroke="#111" stroke-width="0.95" fill="none"/>
<rect x="6.45" y="5.9" width="20.4" height="6.45" rx="0.7" fill="#fff" stroke="#9a9a9a" stroke-width="0.9"/>
<path d="M7,12.4H26.3" stroke="#888" stroke-width="0.7" fill="none"/>
</g>
<g font-size="13" fill="#303030">
<text x="628.4" y="526.5" textLength="51.9" lengthAdjust="spacingAndGlyphs">LED 36W</text>
<text x="628.4" y="551.2">4000k</text>
<text x="628.4" y="576">30X65°</text>
</g>
<g transform="translate(715,493.75) scale(0.99259,0.99120)">
<rect x="0.5" y="0.5" width="108" height="108" fill="#fff"/>
<polygon points="2.52,0.5 107.19,0.5 62.06,83.5 46.95,83.5" fill="#FFDE50"/>
<polygon points="43.62,0.5 65.79,0.5 57.93,83.5 52.39,83.5" fill="#FFF29A"/>
<rect x="0.5" y="83.5" width="108" height="25" fill="#D1D3D4"/>
<polygon points="43.2,83.5 66,83.5 66,84.7 64.1,86.5 64.1,101.3 63.2,102.4 56.6,102.4 55.5,99.5 54.6,98.4 53.7,99.5 52.6,102.4 46,102.4 45.1,101.3 45.1,86.5 43.2,84.7" fill="#fff" stroke="#8a8a8a" stroke-width="0.4"/>
<path d="M45.2,86.5 V101.2 M64,86.5 V101.2" stroke="#444" stroke-width="0.45" fill="none"/>
<rect x="53.3" y="85.2" width="4.3" height="4.3" fill="#f4f4f4" stroke="#444" stroke-width="0.5"/>
<circle cx="45.4" cy="87.6" r="0.8" fill="#222"/>
<circle cx="45.4" cy="93.6" r="0.8" fill="#222"/>
<circle cx="45.4" cy="99.6" r="0.8" fill="#222"/>
<circle cx="63.8" cy="87.6" r="0.8" fill="#222"/>
<circle cx="63.8" cy="93.6" r="0.8" fill="#222"/>
<circle cx="63.8" cy="99.6" r="0.8" fill="#222"/>
<rect x="0.5" y="0.5" width="108" height="108" fill="none" stroke="#777" stroke-width="1"/>
<path d="M0.5,83 V108.5 H108.5 V83" fill="none" stroke="#333" stroke-width="1"/>
<path d="M0,83.5 H109" stroke="#6e6e6e" stroke-width="1"/>
</g>
<g transform="translate(856,493) scale(1.00000,1.00000)">
<clipPath id="c7"><rect x="0.5" y="0.5" width="108" height="108"/></clipPath>
<rect x="0.5" y="0.5" width="108" height="108" fill="#fff"/>
<g clip-path="url(#c7)" fill="none" stroke="#141414" stroke-width="0.58">
<circle cx="54.4" cy="108.25" r="21"/>
<circle cx="54.4" cy="108.25" r="41.9"/>
<circle cx="54.4" cy="108.25" r="64.1"/>
<circle cx="54.4" cy="108.25" r="86.3"/>
<circle cx="54.4" cy="108.25" r="107.6"/>
<path d="M55.2,108.25 V0" stroke="#b4b4b4" stroke-width="1.2"/>
<path d="M34.72,102.81 L-99.55,66.84M36.81,97.75 L-83.56,28.25M40.15,93.4 L-58.14,-4.89M44.5,90.06 L-25,-30.31M49.56,87.97 L13.59,-46.3M60.44,87.97 L96.41,-46.3M65.5,90.06 L135,-30.31M69.85,93.4 L168.14,-4.89M73.19,97.75 L193.56,28.25M75.28,102.81 L209.55,66.84"/>
</g>
<g fill="#fff">
<rect x="26" y="1" width="57" height="13"/>
<rect x="3" y="18.2" width="19.5" height="8.6"/>
<rect x="88" y="18.2" width="19.5" height="8.6"/>
<rect x="2.4" y="78.4" width="16.2" height="8.6"/>
<rect x="90.2" y="78.4" width="18" height="8.6"/>
</g>
<path d="M30.4,3.36 A107.6,107.6 0 0 1 78.4,3.36" fill="none" stroke="#141414" stroke-width="0.58" clip-path="url(#c7)"/>
<g clip-path="url(#c7)" fill="none" stroke-linejoin="round">
<path d="M55.9,108C54.93,107.03 51.87,104.77 50.1,102.2C48.33,99.63 46.7,96.32 45.3,92.6C43.9,88.88 42.68,84.15 41.7,79.9C40.72,75.65 39.93,71.37 39.4,67.1C38.87,62.83 38.58,58.57 38.5,54.3C38.42,50.03 38.53,45.22 38.95,41.5C39.37,37.78 40.08,34.65 41,32C41.92,29.35 43.12,27.47 44.5,25.6C45.88,23.73 47.57,21.92 49.3,20.8C51.03,19.68 53.03,19.17 54.9,18.9C56.77,18.63 58.82,18.62 60.5,19.2C62.18,19.78 63.67,20.8 65,22.4C66.33,24 67.6,26.42 68.5,28.8C69.4,31.18 69.92,33.52 70.4,36.7C70.88,39.88 71.32,43.9 71.4,47.9C71.48,51.9 71.25,56.43 70.9,60.7C70.55,64.97 70.1,69.25 69.3,73.5C68.5,77.75 67.3,82.22 66.1,86.2C64.9,90.18 63.3,94.47 62.1,97.4C60.9,100.33 59.93,102.03 58.9,103.8C57.87,105.57 56.4,107.3 55.9,108" stroke="#8CC63F" stroke-width="1.6" transform="translate(-0.2,0)"/>
<path d="M55.9,107.6C55.47,106.17 54.18,102.57 53.3,99C52.42,95.43 51.48,90.98 50.6,86.2C49.73,81.42 48.72,75.35 48.05,70.3C47.38,65.25 46.84,60.17 46.6,55.9C46.36,51.63 46.42,48.42 46.6,44.7C46.78,40.98 47.12,36.92 47.7,33.6C48.28,30.28 49.17,27.15 50.1,24.8C51.03,22.45 52.32,20.65 53.3,19.5C54.28,18.35 54.93,17.9 56,17.9C57.07,17.9 58.55,18.35 59.7,19.5C60.85,20.65 62.05,22.45 62.9,24.8C63.75,27.15 64.35,30.28 64.8,33.6C65.25,36.92 65.57,40.72 65.6,44.7C65.63,48.68 65.45,52.7 65,57.5C64.55,62.3 63.65,68.45 62.9,73.5C62.15,78.55 61.3,83.55 60.5,87.8C59.7,92.05 58.87,95.7 58.1,99C57.33,102.3 56.27,106.17 55.9,107.6" stroke="#D71F26" stroke-width="1.3" transform="translate(-0.2,0)"/>
</g>
<path d="M26.5,0.5V2.8M83.3,0.5V2.8" stroke="#333" stroke-width="0.6" fill="none"/>
<g font-size="8.6" fill="#303030">
<text x="54.2" y="11.6" text-anchor="middle">8038cd</text>
<text x="4.2" y="24.8">150°</text>
<text x="89.2" y="24.8">150°</text>
<text x="3.6" y="85">120°</text>
<text x="89.8" y="85">120°</text>
</g>
<rect x="0.5" y="0.5" width="108" height="108" fill="none" stroke="#999" stroke-width="1"/>
</g>
<g font-size="12" font-weight="bold" fill="#1a1a1a">
<text x="997.5" y="503.8" textLength="24.6" lengthAdjust="spacingAndGlyphs">H(m)</text>
<text x="1051.4" y="503.8" textLength="39.4" lengthAdjust="spacingAndGlyphs">medlux</text>
<text x="1127.1" y="503.8" textLength="38.6" lengthAdjust="spacingAndGlyphs">maxlux</text>
</g>
<g font-size="13" fill="#303030" letter-spacing="0.15">
<text x="996.9" y="526">2.0</text>
<text x="1050.8" y="526">6973.2</text>
<text x="1126.5" y="526">8640</text>
<text x="996.9" y="550.8">5.0</text>
<text x="1050.8" y="550.8">1721.3</text>
<text x="1126.5" y="550.8">2158.9</text>
<text x="996.9" y="575.6">10.0</text>
<text x="1050.8" y="575.6">429.1</text>
<text x="1126.5" y="575.6">541.2</text>
<text x="996.9" y="600.5">20.0</text>
<text x="1050.8" y="600.5">190.8</text>
<text x="1126.5" y="600.5">240.6</text>
</g>
</svg></body></html>
